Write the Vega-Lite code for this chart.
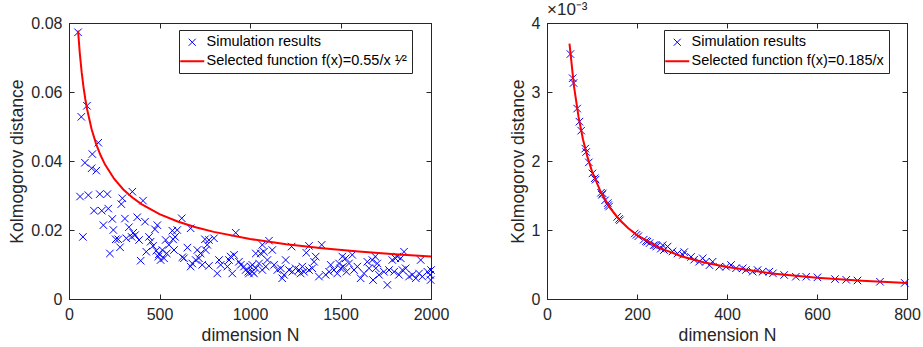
{
  "$schema": "https://vega.github.io/schema/vega-lite/v6.json",
  "background": "white",
  "padding": {"left": 8, "top": 0, "right": 5, "bottom": 5},
  "bounds": "flush",
  "spacing": 116,
  "config": {
    "font": "Liberation Sans",
    "view": {"stroke": "#262626", "strokeWidth": 1},
    "axis": {
      "grid": false,
      "domainColor": "#262626",
      "tickColor": "#262626",
      "labelColor": "#262626",
      "titleColor": "#262626",
      "labelFont": "Liberation Sans",
      "titleFont": "Liberation Sans",
      "labelFontSize": 16,
      "titleFontSize": 17.6,
      "titleFontWeight": "normal",
      "titlePadding": 4,
      "tickSize": -5,
      "labelPadding": 12,
      "labelFlush": false,
      "labelOverlap": false
    },
    "legend": {
      "labelFont": "Liberation Sans",
      "labelFontSize": 14.5,
      "labelColor": "#000000",
      "labelLimit": 0,
      "strokeColor": "#262626",
      "fillColor": "white",
      "padding": 5,
      "rowPadding": 4,
      "symbolSize": 225,
      "symbolOffset": 1,
      "labelOffset": 7
    },
    "title": {"font": "Liberation Sans", "fontSize": 17, "fontWeight": "normal", "color": "#262626"}
  },
  "datasets": {
    "left_sim": [
      {"N":50,"d":0.0773},{"N":68,"d":0.0528},{"N":99,"d":0.056},{"N":88,"d":0.0395},{"N":129,"d":0.042},
      {"N":125,"d":0.0379},{"N":151,"d":0.0372},{"N":162,"d":0.0453},{"N":61,"d":0.0297},{"N":107,"d":0.0301},
      {"N":170,"d":0.0304},{"N":212,"d":0.0304},{"N":350,"d":0.0311},{"N":295,"d":0.0292},{"N":289,"d":0.0275},
      {"N":409,"d":0.0285},{"N":138,"d":0.0256},{"N":181,"d":0.0256},{"N":217,"d":0.0262},{"N":239,"d":0.0232},
      {"N":309,"d":0.0233},{"N":377,"d":0.0237},{"N":420,"d":0.0224},{"N":190,"d":0.0214},{"N":488,"d":0.0214},
      {"N":475,"d":0.0202},{"N":77,"d":0.018},{"N":245,"d":0.02},{"N":331,"d":0.0208},{"N":355,"d":0.0192},
      {"N":365,"d":0.0185},{"N":346,"d":0.018},{"N":258,"d":0.0173},{"N":272,"d":0.0173},{"N":317,"d":0.0176},
      {"N":387,"d":0.0171},{"N":442,"d":0.018},{"N":451,"d":0.0166},{"N":464,"d":0.0154},{"N":282,"d":0.015},
      {"N":226,"d":0.0132},{"N":427,"d":0.0137},{"N":482,"d":0.014},{"N":497,"d":0.013},{"N":396,"d":0.0111},
      {"N":506,"d":0.0113},
      {"N":623,"d":0.0234},{"N":672,"d":0.0205},{"N":921,"d":0.0192},{"N":571,"d":0.0198},{"N":598,"d":0.02},
      {"N":586,"d":0.018},{"N":575,"d":0.0173},{"N":534,"d":0.0171},{"N":552,"d":0.0157},{"N":580,"d":0.0142},
      {"N":654,"d":0.0149},{"N":516,"d":0.0142},{"N":540,"d":0.0132},{"N":493,"d":0.0123},{"N":525,"d":0.0118},
      {"N":635,"d":0.0118},{"N":626,"d":0.0121},{"N":709,"d":0.0142},{"N":727,"d":0.0132},{"N":718,"d":0.0118},
      {"N":700,"d":0.0113},{"N":681,"d":0.0103},{"N":672,"d":0.0094},{"N":751,"d":0.0173},{"N":773,"d":0.0171},
      {"N":801,"d":0.0176},{"N":764,"d":0.0157},{"N":755,"d":0.0142},{"N":736,"d":0.0099},{"N":773,"d":0.0096},
      {"N":829,"d":0.0113},{"N":838,"d":0.0099},{"N":819,"d":0.0074},{"N":875,"d":0.0094},{"N":893,"d":0.0123},
      {"N":884,"d":0.0113},{"N":912,"d":0.0128},{"N":902,"d":0.0074},{"N":939,"d":0.0108},{"N":949,"d":0.0099},
      {"N":967,"d":0.0094},{"N":976,"d":0.0084},{"N":994,"d":0.0074},{"N":1013,"d":0.0079},{"N":1004,"d":0.0094},
      {"N":1105,"d":0.0169},{"N":1068,"d":0.0157},{"N":1059,"d":0.0132},{"N":1077,"d":0.0137},{"N":1032,"d":0.0132},
      {"N":1123,"d":0.0142},{"N":1230,"d":0.0152},{"N":1326,"d":0.0154},{"N":1311,"d":0.0134},{"N":1396,"d":0.0157},
      {"N":1363,"d":0.0123},{"N":1354,"d":0.0108},{"N":1197,"d":0.0113},{"N":1013,"d":0.0099},{"N":1032,"d":0.0089},
      {"N":1050,"d":0.0103},{"N":990,"d":0.0079},{"N":1022,"d":0.0074},{"N":1068,"d":0.0084},{"N":1087,"d":0.0094},
      {"N":1096,"d":0.0113},{"N":1133,"d":0.0099},{"N":1151,"d":0.0084},{"N":1170,"d":0.0089},{"N":1188,"d":0.007},
      {"N":1178,"d":0.006},{"N":1216,"d":0.0084},{"N":1234,"d":0.0079},{"N":1252,"d":0.0089},{"N":1271,"d":0.0084},
      {"N":1289,"d":0.0094},{"N":1298,"d":0.0079},{"N":1280,"d":0.0074},{"N":1326,"d":0.0084},{"N":1344,"d":0.0089},
      {"N":1418,"d":0.007},{"N":1437,"d":0.0079},{"N":1446,"d":0.0099},{"N":1464,"d":0.0084},{"N":1482,"d":0.0074},
      {"N":1501,"d":0.0089},{"N":1492,"d":0.0103},{"N":1510,"d":0.0123},{"N":1381,"d":0.0065},
      {"N":1851,"d":0.0137},{"N":1786,"d":0.0113},{"N":1814,"d":0.0123},{"N":1833,"d":0.0118},{"N":1943,"d":0.0113},
      {"N":2000,"d":0.0084},{"N":1995,"d":0.007},{"N":1565,"d":0.0128},{"N":1529,"d":0.0118},{"N":1547,"d":0.0103},
      {"N":1515,"d":0.0094},{"N":1533,"d":0.0079},{"N":1575,"d":0.0084},{"N":1593,"d":0.0094},{"N":1648,"d":0.0108},
      {"N":1676,"d":0.0113},{"N":1703,"d":0.0103},{"N":1658,"d":0.0089},{"N":1695,"d":0.0089},{"N":1630,"d":0.0074},
      {"N":1611,"d":0.006},{"N":1680,"d":0.0055},{"N":1713,"d":0.007},{"N":1759,"d":0.0041},{"N":1740,"d":0.0079},
      {"N":1768,"d":0.0084},{"N":1796,"d":0.0079},{"N":1823,"d":0.007},{"N":1842,"d":0.0084},{"N":1860,"d":0.0089},
      {"N":1879,"d":0.0065},{"N":1897,"d":0.007},{"N":1916,"d":0.006},{"N":1934,"d":0.0074},{"N":1952,"d":0.0065},
      {"N":1980,"d":0.0079},{"N":1998,"d":0.0055},{"N":1803,"d":0.0118},{"N":1692,"d":0.0123}
    ],
    "left_fit": [
      {"N":50,"d":0.07778},{"N":60,"d":0.07101},{"N":70,"d":0.06574},{"N":80,"d":0.06149},{"N":90,"d":0.05798},
      {"N":100,"d":0.055},{"N":125,"d":0.04919},{"N":150,"d":0.04491},{"N":175,"d":0.04158},{"N":200,"d":0.03889},
      {"N":250,"d":0.03479},{"N":300,"d":0.03175},{"N":350,"d":0.0294},{"N":400,"d":0.0275},{"N":500,"d":0.0246},
      {"N":600,"d":0.02245},{"N":700,"d":0.02079},{"N":800,"d":0.01945},{"N":1000,"d":0.01739},{"N":1200,"d":0.01588},
      {"N":1400,"d":0.0147},{"N":1600,"d":0.01375},{"N":1800,"d":0.01296},{"N":2000,"d":0.0123}
    ],
    "right_sim": [
      {"N":52,"d":0.00355},{"N":57,"d":0.0032},{"N":59,"d":0.00313},{"N":67,"d":0.00276},{"N":72,"d":0.00257},
      {"N":76,"d":0.00244},{"N":85,"d":0.00218},{"N":87,"d":0.00213},{"N":93,"d":0.00198},{"N":101,"d":0.00182},
      {"N":106,"d":0.00175},{"N":108,"d":0.00173},{"N":122,"d":0.00151},{"N":120,"d":0.00154},{"N":124,"d":0.00153},
      {"N":129,"d":0.00143},{"N":135,"d":0.00139},{"N":138,"d":0.00134},{"N":136,"d":0.00136},{"N":156,"d":0.00119},
      {"N":162,"d":0.00114},{"N":160,"d":0.00116},{"N":195,"d":0.00095},{"N":199,"d":0.00093},{"N":203,"d":0.00091},
      {"N":215,"d":0.00086},{"N":220,"d":0.00084},{"N":223,"d":0.00083},{"N":237,"d":0.00078},{"N":228,"d":0.00081},
      {"N":241,"d":0.00078},{"N":243,"d":0.00076},{"N":253,"d":0.00073},{"N":260,"d":0.00071},{"N":257,"d":0.00078},
      {"N":268,"d":0.00076},{"N":279,"d":0.00069},{"N":290,"d":0.00066},{"N":305,"d":0.00068},{"N":302,"d":0.00064},
      {"N":320,"d":0.00061},{"N":327,"d":0.00057},{"N":338,"d":0.00054},{"N":346,"d":0.00059},{"N":353,"d":0.00054},
      {"N":368,"d":0.00054},{"N":361,"d":0.00049},{"N":383,"d":0.000468},{"N":398,"d":0.000468},{"N":409,"d":0.000493},
      {"N":420,"d":0.000445},{"N":435,"d":0.000445},{"N":442,"d":0.00042},{"N":457,"d":0.000396},{"N":468,"d":0.00042},
      {"N":479,"d":0.000396},{"N":494,"d":0.000396},{"N":502,"d":0.000372},{"N":527,"d":0.000348},{"N":553,"d":0.000323},
      {"N":576,"d":0.000323},{"N":601,"d":0.000314},{"N":640,"d":0.000289},{"N":665,"d":0.000278},{"N":690,"d":0.000268},
      {"N":740,"d":0.00025},{"N":795,"d":0.000233}
    ],
    "right_fit": [
      {"N":50,"d":0.0037},{"N":60,"d":0.003083},{"N":70,"d":0.002643},{"N":80,"d":0.0023125},{"N":90,"d":0.002056},
      {"N":100,"d":0.00185},{"N":120,"d":0.001542},{"N":140,"d":0.001321},{"N":160,"d":0.001156},{"N":180,"d":0.001028},
      {"N":200,"d":0.000925},{"N":250,"d":0.00074},{"N":300,"d":0.000617},{"N":350,"d":0.000529},{"N":400,"d":0.000463},
      {"N":500,"d":0.00037},{"N":600,"d":0.000308},{"N":700,"d":0.000264},{"N":800,"d":0.000231}
    ]
  },
  "resolve": {"scale": {"color": "independent"}},
  "hconcat": [
    {
      "width": 362,
      "height": 276,
      "resolve": {"axis": {"x": "independent", "y": "independent"}},
      "layer": [
        {
          "data": {"name": "left_sim"},
          "mark": {"type": "point", "shape": "M-1,-1L1,1M-1,1L1,-1", "filled": false, "size": 56, "strokeWidth": 1, "opacity": 1},
          "encoding": {
            "x": {"field": "N", "type": "quantitative", "scale": {"domain": [0, 2000], "nice": false},
                  "axis": {"values": [0, 500, 1000, 1500, 2000], "format": "d", "title": "dimension N"}},
            "y": {"field": "d", "type": "quantitative", "scale": {"domain": [0, 0.08], "nice": false},
                  "axis": {"values": [0, 0.02, 0.04, 0.06, 0.08], "labelExpr": "datum.value == 0 ? '0' : format(datum.value, '.2f')", "title": "Kolmogorov distance"}},
            "color": {"datum": "Simulation results", "type": "nominal",
              "scale": {"domain": ["Simulation results", "Selected function f(x)=0.55/x ¹⁄²"], "range": ["#0000ff", "#ff0000"]},
              "legend": {"title": null, "orient": "none", "legendX": 110, "legendY": 7,
                "encoding": {"symbols": {
                  "shape": {"value": {"expr": "datum.value === 'Simulation results' ? 'M-1,-1L1,1M-1,1L1,-1' : 'stroke'"}},
                  "size": {"value": {"expr": "datum.value === 'Simulation results' ? 50 : 576"}},
                  "strokeWidth": {"value": {"expr": "datum.value === 'Simulation results' ? 1 : 2"}}
                }}}}
          }
        },
        {
          "data": {"name": "left_fit"},
          "mark": {"type": "line", "strokeWidth": 2},
          "encoding": {
            "x": {"field": "N", "type": "quantitative", "axis": {"orient": "top", "values": [0, 500, 1000, 1500, 2000], "labels": false, "title": null}},
            "y": {"field": "d", "type": "quantitative", "axis": {"orient": "right", "values": [0, 0.02, 0.04, 0.06, 0.08], "labels": false, "title": null}},
            "color": {"datum": "Selected function f(x)=0.55/x ¹⁄²", "type": "nominal"}
          }
        }
      ]
    },
    {
      "width": 360,
      "height": 276,
      "title": {"text": "×10⁻³", "anchor": "start", "frame": "group", "offset": -4, "fontSize": 17},
      "resolve": {"axis": {"x": "independent", "y": "independent"}},
      "layer": [
        {
          "data": {"name": "right_sim"},
          "mark": {"type": "point", "shape": "M-1,-1L1,1M-1,1L1,-1", "filled": false, "size": 56, "strokeWidth": 1, "opacity": 1},
          "encoding": {
            "x": {"field": "N", "type": "quantitative", "scale": {"domain": [0, 800], "nice": false},
                  "axis": {"values": [0, 200, 400, 600, 800], "format": "d", "title": "dimension N"}},
            "y": {"field": "d", "type": "quantitative", "scale": {"domain": [0, 0.004], "nice": false},
                  "axis": {"values": [0, 0.001, 0.002, 0.003, 0.004], "labelExpr": "format(datum.value * 1000, '.0f')", "title": "Kolmogorov distance"}},
            "color": {"datum": "Simulation results", "type": "nominal",
              "scale": {"domain": ["Simulation results", "Selected function f(x)=0.185/x"], "range": ["#0000ff", "#ff0000"]},
              "legend": {"title": null, "orient": "none", "legendX": 117, "legendY": 7,
                "encoding": {"symbols": {
                  "shape": {"value": {"expr": "datum.value === 'Simulation results' ? 'M-1,-1L1,1M-1,1L1,-1' : 'stroke'"}},
                  "size": {"value": {"expr": "datum.value === 'Simulation results' ? 50 : 576"}},
                  "strokeWidth": {"value": {"expr": "datum.value === 'Simulation results' ? 1 : 2"}}
                }}}}
          }
        },
        {
          "data": {"name": "right_fit"},
          "mark": {"type": "line", "strokeWidth": 2},
          "encoding": {
            "x": {"field": "N", "type": "quantitative", "axis": {"orient": "top", "values": [0, 200, 400, 600, 800], "labels": false, "title": null}},
            "y": {"field": "d", "type": "quantitative", "axis": {"orient": "right", "values": [0, 0.001, 0.002, 0.003, 0.004], "labels": false, "title": null}},
            "color": {"datum": "Selected function f(x)=0.185/x", "type": "nominal"}
          }
        }
      ]
    }
  ]
}
